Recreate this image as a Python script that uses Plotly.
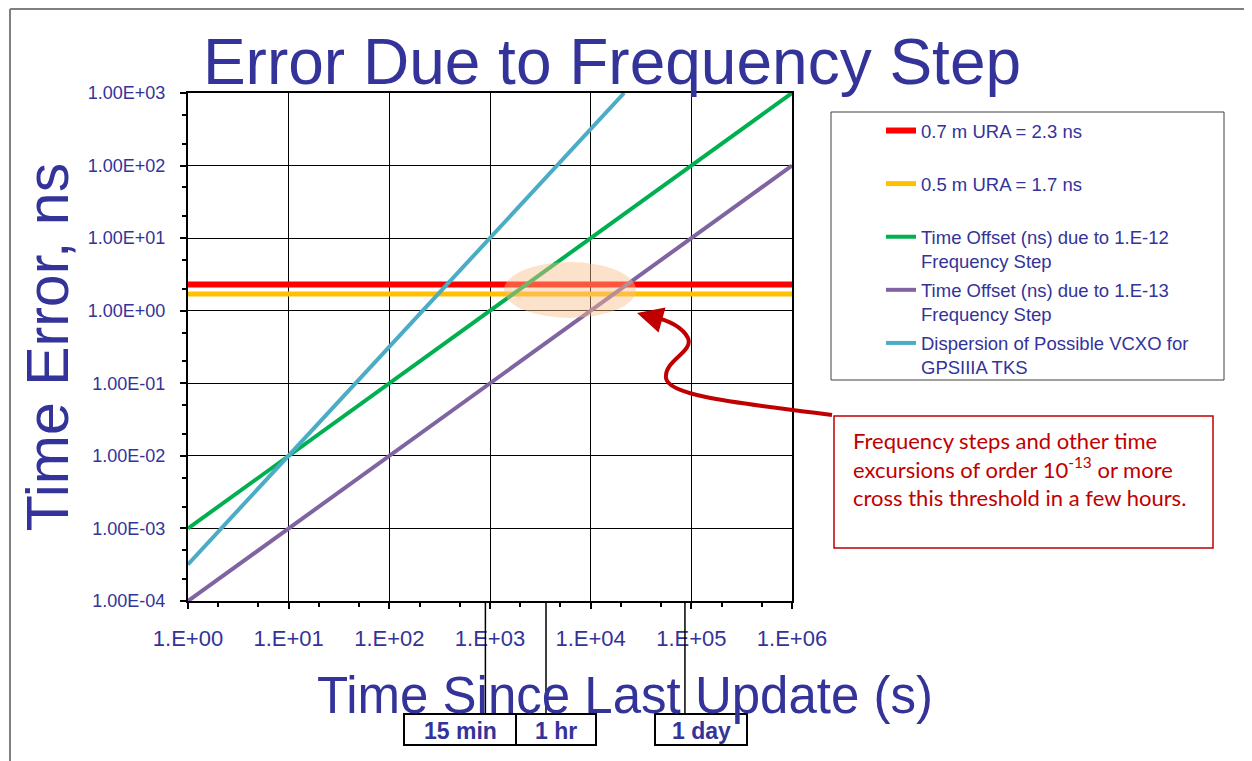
import numpy as np
import plotly.graph_objects as go

# ---------------- data ----------------
time_s = [1, 10, 100, 1e3, 1e4, 1e5, 1e6]
ura_07m_ns = [2.3, 2.3, 2.3, 2.3, 2.3, 2.3, 2.3]
ura_05m_ns = [1.7, 1.7, 1.7, 1.7, 1.7, 1.7, 1.7]
step_1e12_ns = [1e-3, 1e-2, 1e-1, 1, 10, 100, 1000]
step_1e13_ns = [1e-4, 1e-3, 1e-2, 1e-1, 1, 10, 100]
vcxo_time_s = [1, 10, 100, 1e3, 1e4, 2.15e4]
vcxo_ns = [3.2e-4, 1e-2, 3.2e-1, 10, 316, 1000]

series_names = [
    "0.7 m URA = 2.3 ns",
    "0.5 m URA = 1.7 ns",
    "Time Offset (ns) due to 1.E-12<br>Frequency Step",
    "Time Offset (ns) due to 1.E-13<br>Frequency Step",
    "Dispersion of Possible VCXO for<br>GPSIIIA TKS",
]

y_tickvals = [1e-4, 1e-3, 1e-2, 1e-1, 1, 10, 100, 1000]
y_ticktext = ["1.00E-04", "1.00E-03", "1.00E-02", "1.00E-01",
              "1.00E+00", "1.00E+01", "1.00E+02", "1.00E+03"]
x_tickvals = [1, 10, 100, 1e3, 1e4, 1e5, 1e6]
x_ticktext = ["1.E+00", "1.E+01", "1.E+02", "1.E+03", "1.E+04", "1.E+05", "1.E+06"]

marker_labels = ["15 min", "1 hr", "1 day"]
marker_times_s = [900, 3600, 86400]

# ---------------- layout helpers ----------------
# page has an 8px body margin; figure is sized to fill the rest of the window
OFF = 8
W, H = 1252 - OFF, 761 - OFF
# plot area in page pixels
L, R, T, B = 188, 792, 93, 601


def px(xp):
    return (xp - L) / (R - L)


def py(yp):
    return (B - yp) / (B - T)


BLUE = "#333399"
DARKRED = "#C00000"

fig = go.Figure()
colors = ["#FF0000", "#FFC000", "#00B050", "#8064A2", "#4BACC6"]
widths = [6, 5, 4, 4, 4]
xs = [time_s, time_s, time_s, time_s, vcxo_time_s]
ys = [ura_07m_ns, ura_05m_ns, step_1e12_ns, step_1e13_ns, vcxo_ns]
for i in range(5):
    name = series_names[i]
    if "<br>" not in name:
        name = name + "<br> "
    fig.add_trace(go.Scatter(
        x=xs[i], y=ys[i], mode="lines", name=name,
        line=dict(color=colors[i], width=widths[i]),
        legendgroup=f"g{i}", cliponaxis=True,
    ))

shapes = []
annotations = []

# outer frame lines (left & top)
shapes.append(dict(type="line", xref="paper", yref="paper",
                   x0=px(10), x1=px(10), y0=py(9), y1=py(761),
                   line=dict(color="#808080", width=2)))
shapes.append(dict(type="line", xref="paper", yref="paper",
                   x0=px(10), x1=px(1252), y0=py(9), y1=py(9),
                   line=dict(color="#808080", width=2)))

# legend frame
shapes.append(dict(type="rect", xref="paper", yref="paper",
                   x0=px(831), x1=px(1224), y0=py(112), y1=py(380),
                   line=dict(color="#404040", width=1), fillcolor="white",
                   layer="below"))

# highlight ellipse
shapes.append(dict(type="circle", xref="paper", yref="paper",
                   x0=px(504), x1=px(636), y0=py(318), y1=py(262),
                   fillcolor="rgba(250,190,140,0.45)", line=dict(width=0),
                   layer="above"))

# annotation box
shapes.append(dict(type="rect", xref="paper", yref="paper",
                   x0=px(834), x1=px(1213), y0=py(548), y1=py(416),
                   line=dict(color=DARKRED, width=1.5), fillcolor="white"))

# curved arrow path
pts = [(832, 415), (760, 405), (668, 398), (666, 378),
       (664, 360), (694, 352), (688, 338),
       (682, 326), (668, 320), (650, 316)]
p = [(px(a), py(b)) for a, b in pts]
path = "M {},{} C {},{} {},{} {},{} C {},{} {},{} {},{} C {},{} {},{} {},{}".format(
    *[c for xy in p for c in xy])
shapes.append(dict(type="path", xref="paper", yref="paper", path=path,
                   line=dict(color=DARKRED, width=4)))
annotations.append(dict(xref="paper", yref="paper", x=px(637), y=py(313),
                        ax=18, ay=5, text="", showarrow=True,
                        arrowhead=2, arrowsize=1.3, arrowwidth=4,
                        arrowcolor=DARKRED))

annotations.append(dict(
    xref="paper", yref="paper", x=px(851), y=py(425), xanchor="left", yanchor="top",
    align="left", showarrow=False,
    text="Frequency steps and other time<br>excursions of order 10<sup>-13</sup> or more<br>cross this threshold in a few hours.",
    font=dict(family="Lato, Carlito, sans-serif", size=22, color=DARKRED)))

# x axis title (centred off the plot centre, as in the reference)
annotations.append(dict(
    xref="paper", yref="paper", x=px(625), y=py(695), xanchor="center", yanchor="middle",
    showarrow=False, text="Time Since Last Update (s)",
    font=dict(family="Liberation Sans, Arial", size=51, color=BLUE)))

# time markers below axis
box_px = [(404, 516), (516, 596), (655, 747)]
for lab, t, (bx0, bx1) in zip(marker_labels, marker_times_s, box_px):
    xpaper = np.log10(t) / 6.0
    shapes.append(dict(type="line", xref="paper", yref="paper",
                       x0=xpaper, x1=xpaper, y0=py(601), y1=py(714),
                       line=dict(color="black", width=1.5)))
    shapes.append(dict(type="rect", xref="paper", yref="paper",
                       x0=px(bx0), x1=px(bx1), y0=py(745), y1=py(714),
                       line=dict(color="black", width=2), fillcolor="white"))
    annotations.append(dict(xref="paper", yref="paper", x=px((bx0 + bx1) / 2), y=py(731),
                            xanchor="center", yanchor="middle",
                            text="<b>%s</b>" % lab, showarrow=False,
                            font=dict(family="Liberation Sans, Arial", size=23, color=BLUE)))

fig.update_layout(
    width=W, height=H,
    margin=dict(l=L - OFF, r=W - (R - OFF), t=T - OFF, b=H - (B - OFF)),
    paper_bgcolor="white", plot_bgcolor="white",
    font=dict(family="Liberation Sans, Arial, sans-serif", color=BLUE),
    title=dict(text="Error Due to Frequency Step", x=(612 - OFF) / W, xanchor="center",
               y=1 - (62 - OFF) / H, yanchor="middle", yref="container",
               font=dict(size=64, color=BLUE)),
    showlegend=True,
    legend=dict(x=px(881), y=py(112), xanchor="left", yanchor="top",
                bgcolor="rgba(0,0,0,0)", borderwidth=0,
                font=dict(size=18.5, color=BLUE), tracegroupgap=2,
                valign="top"),
    shapes=shapes, annotations=annotations,
)

fig.update_xaxes(
    type="log", range=[0, 6], tickvals=x_tickvals, ticktext=x_ticktext,
    showgrid=True, gridcolor="black", gridwidth=1,
    showline=True, linecolor="black", linewidth=2, mirror=True,
    ticks="outside", ticklen=6, tickcolor="black", tickwidth=1.5,
    minor=dict(ticks="outside", ticklen=4, tickcolor="black", showgrid=False),
    tickfont=dict(size=22, color=BLUE), ticklabelstandoff=11,
    zeroline=False,
)
fig.update_yaxes(
    type="log", range=[-4, 3], tickvals=y_tickvals, ticktext=y_ticktext,
    showgrid=True, gridcolor="black", gridwidth=1,
    showline=True, linecolor="black", linewidth=2, mirror=True,
    ticks="outside", ticklen=6, tickcolor="black", tickwidth=1.5,
    minor=dict(ticks="outside", ticklen=4, tickcolor="black", showgrid=False),
    tickfont=dict(size=18, color=BLUE), ticklabelstandoff=11,
    title=dict(text="Time Error, ns", font=dict(size=59, color=BLUE), standoff=0),
    zeroline=False,
)

fig.write_html("out.html")
